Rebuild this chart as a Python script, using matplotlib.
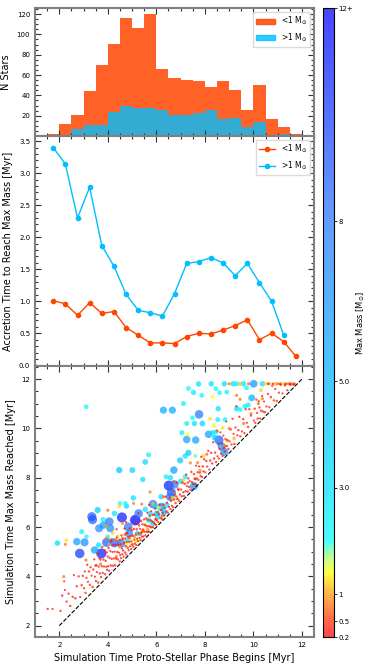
import numpy as np
import matplotlib
matplotlib.use("Agg")
import matplotlib.pyplot as plt
from matplotlib.colors import LinearSegmentedColormap, Normalize
from matplotlib.patches import Patch
from matplotlib.ticker import MultipleLocator

# histogram bins (0.5 Myr wide) and star counts per bin
bin_left = np.arange(1.5, 12.0, 0.5)
n_low = [2, 12, 21, 44, 70, 91, 116, 106, 120, 66, 57, 55, 54, 48, 54, 45, 26, 50, 17, 9, 2]
n_high = [1, 1, 7, 11, 11, 24, 30, 28, 28, 26, 21, 21, 23, 26, 17, 18, 9, 14, 1, 2, 0]

# mean accretion time per bin [Myr]
acc_low = [1.01, 0.96, 0.78, 0.98, 0.81, 0.84, 0.59, 0.47, 0.35, 0.35, 0.34,
           0.45, 0.50, 0.49, 0.55, 0.62, 0.71, 0.40, 0.50, 0.37, 0.14]
acc_high = [3.40, 3.14, 2.30, 2.78, 1.87, 1.55, 1.11, 0.86, 0.82, 0.77, 1.12,
            1.59, 1.62, 1.68, 1.60, 1.40, 1.59, 1.29, 1.00, 0.47]

# individual stars: (start time, accretion time, max mass)
massive_stars = [
    (1.92, 3.43, 3.2), (3.11, 7.77, 2.2), (6.29, 4.45, 5.5), (6.66, 4.08, 5.5),
    (4.47, 3.84, 4.2), (5.01, 3.30, 3.6), (5.54, 3.10, 3.4), (5.68, 3.25, 2.5),
    (5.44, 2.49, 3.0), (6.72, 1.59, 6.0), (6.51, 1.17, 11.0), (6.74, 0.99, 8.0),
    (6.62, 0.78, 9.0), (5.05, 2.13, 3.0), (4.77, 2.08, 3.0), (4.50, 2.46, 2.0),
    (3.58, 3.11, 4.0), (3.34, 3.08, 9.0), (3.37, 2.93, 9.0), (3.80, 2.51, 2.5),
    (3.64, 2.31, 7.0), (4.06, 2.16, 8.0), (4.27, 2.28, 3.0), (4.58, 1.81, 11.0),
    (5.13, 1.15, 12.0), (4.84, 1.17, 8.0), (2.92, 2.89, 2.5), (2.72, 2.69, 6.0),
    (3.04, 2.34, 7.0), (3.12, 2.49, 2.0), (2.84, 2.09, 10.0), (3.73, 1.20, 11.0),
    (3.45, 1.62, 6.0), (3.62, 1.65, 3.0), (3.95, 1.43, 9.0), (4.26, 1.10, 9.0),
    (4.55, 0.79, 8.0), (4.80, 0.67, 2.5), (4.00, 1.61, 2.0), (5.22, 0.52, 3.0),
    (4.87, 0.87, 7.0), (5.84, 0.30, 3.0), (6.05, 0.35, 3.0), (6.33, 0.29, 3.0),
    (5.86, 1.07, 8.0), (6.19, 0.63, 7.0), (6.19, 1.04, 3.0), (3.82, 2.26, 6.0),
    (4.10, 1.85, 7.0), (5.27, 1.28, 8.0), (5.54, 1.18, 3.0), (5.95, 0.87, 3.0),
    (6.29, 0.26, 3.0), (6.43, 0.46, 3.0), (5.74, 0.81, 3.0), (5.68, 0.60, 3.0),
    (6.02, 0.53, 4.0), (4.72, 2.24, 2.0), (7.12, 3.89, 2.5), (7.53, 3.93, 2.8),
    (7.74, 4.06, 3.0), (8.26, 3.55, 3.0), (8.80, 3.01, 3.0), (9.17, 2.64, 3.0),
    (9.31, 2.50, 2.5), (9.59, 2.22, 3.0), (10.01, 1.80, 6.5), (10.37, 1.44, 3.0),
    (7.32, 4.30, 2.2), (8.45, 3.16, 2.2), (8.90, 2.57, 2.2), (9.72, 1.93, 2.2),
    (9.93, 1.31, 5.0), (7.87, 3.47, 2.2), (8.55, 2.25, 3.0), (9.31, 1.49, 3.0),
    (9.65, 1.25, 2.5), (7.76, 2.81, 8.0), (7.49, 2.94, 2.2), (7.25, 2.95, 2.5),
    (7.57, 2.63, 3.0), (7.90, 2.30, 3.5), (8.53, 1.83, 2.5), (8.83, 1.53, 2.2),
    (7.05, 2.78, 2.5), (7.25, 2.30, 6.0), (7.62, 1.91, 6.0), (8.15, 1.61, 6.0),
    (8.31, 1.51, 3.0), (8.42, 1.20, 4.0), (8.58, 0.95, 9.0), (8.69, 0.59, 7.0),
    (7.32, 1.69, 4.0), (7.19, 1.69, 3.0), (7.60, 1.28, 1.8), (6.98, 1.72, 4.0),
    (7.00, 0.85, 3.0), (7.55, 0.11, 7.0), (8.60, 2.85, 2.2), (8.80, 0.25, 7.0),
    (9.45, 1.31, 2.2), (9.79, 1.16, 2.5), (8.46, 1.40, 2.5), (6.40, 1.64, 2.5),
    (6.58, 1.42, 3.0), (6.57, 0.66, 8.0), (7.19, 0.85, 2.5),
]

mid_stars = [
    (3.95, 1.60, 0.9), (4.05, 1.25, 1.1), (4.15, 1.35, 0.7), (4.20, 1.55, 1.3),
    (4.32, 1.13, 0.8), (4.40, 1.22, 1.2), (4.48, 0.72, 0.9), (4.60, 0.95, 1.0),
    (4.70, 1.00, 0.7), (4.78, 0.57, 1.4), (4.90, 0.65, 0.8), (5.00, 0.30, 1.1),
    (5.10, 0.50, 0.9), (5.20, 0.22, 1.3), (5.35, 0.35, 0.7), (5.45, 0.40, 1.0),
    (2.29, 3.18, 1.3), (2.25, 3.05, 0.8), (2.18, 1.81, 0.8), (3.10, 1.56, 0.8),
    (5.55, 0.55, 1.3), (5.13, 0.34, 1.4), (4.78, 0.96, 0.8), (5.40, 0.41, 0.7),
    (5.98, 0.32, 0.8), (6.23, 0.22, 0.7), (5.06, 1.90, 0.8), (4.47, 2.38, 1.3),
    (5.40, 1.53, 0.8), (5.86, 1.09, 1.2), (4.60, 1.55, 0.9), (4.00, 2.68, 0.7),
    (3.95, 2.10, 1.0), (5.74, 1.68, 0.8), (6.29, 0.94, 0.8), (6.72, 1.10, 0.7),
    (6.66, 0.53, 1.3), (6.90, 0.65, 0.8), (7.10, 0.80, 1.2), (7.30, 0.50, 0.7),
    (7.40, 1.20, 0.9), (7.70, 0.91, 0.8), (7.94, 0.94, 1.3), (8.08, 0.87, 0.7),
    (7.80, 0.50, 1.0), (8.21, 2.18, 1.3), (8.38, 1.71, 1.4), (8.74, 1.29, 1.3),
    (7.29, 2.47, 1.4), (8.31, 2.97, 1.4), (9.31, 2.03, 0.8), (9.45, 1.73, 0.8),
    (10.31, 1.24, 1.2), (10.37, 0.83, 0.8), (8.83, 0.45, 0.8), (8.50, 1.40, 0.7),
    (9.00, 1.00, 0.9), (9.20, 0.40, 1.1), (9.60, 0.60, 0.7), (9.90, 0.70, 0.8),
    (8.90, 0.60, 1.2), (10.20, 0.80, 0.7), (10.50, 1.31, 1.3), (10.65, 1.16, 0.8),
    (10.89, 0.92, 1.1), (11.00, 0.81, 0.7), (11.16, 0.65, 1.2), (11.30, 0.51, 0.8),
    (11.44, 0.37, 0.9), (11.55, 0.26, 0.6), (11.64, 0.17, 1.0), (9.00, 2.81, 0.8),
    (9.45, 2.36, 1.2), (9.80, 2.01, 0.7), (4.35, 0.45, 0.7), (5.65, 0.25, 0.9),
    (6.10, 0.70, 1.5), (6.85, 0.30, 0.8), (7.60, 0.35, 0.7), (3.70, 0.80, 0.8),
]

low_stars = [
    (1.52, 1.16, .3), (1.72, 0.96, .2), (2.05, 0.55, .3), (2.12, 1.10, .4), (2.23, 1.22, .2),
    (2.30, 0.68, .3), (2.38, 0.92, .3), (2.45, 0.35, .4), (2.20, 1.60, .2), (2.55, 0.62, .3),
    (2.60, 1.45, .2), (2.66, 0.45, .4), (2.72, 0.88, .3), (2.80, 1.20, .3), (2.86, 0.30, .2),
    (2.92, 0.72, .4), (2.97, 1.05, .3), (3.02, 0.50, .3), (3.05, 1.15, .2), (3.08, 0.25, .4),
    (3.12, 0.82, .3), (3.15, 1.32, .3), (3.18, 0.60, .2), (3.22, 0.98, .4), (3.26, 0.40, .3),
    (3.29, 1.08, .3), (3.33, 0.70, .2), (3.37, 0.20, .4), (3.40, 0.88, .3), (3.44, 1.25, .3),
    (3.47, 0.52, .2), (3.49, 0.95, .4), (3.51, 0.30, .3), (3.53, 0.92, .3), (3.55, 0.62, .2),
    (3.58, 1.35, .4), (3.60, 0.15, .3), (3.62, 0.78, .3), (3.65, 1.08, .2), (3.67, 0.45, .4),
    (3.70, 0.98, .3), (3.72, 0.25, .3), (3.75, 0.66, .2), (3.77, 1.42, .4), (3.79, 0.35, .3),
    (3.82, 0.86, .3), (3.84, 0.56, .2), (3.87, 1.18, .4), (3.89, 0.20, .3), (3.91, 0.72, .3),
    (3.93, 0.46, .2), (3.95, 1.02, .4), (3.97, 0.30, .3), (3.99, 0.82, .3), (4.01, 0.40, .2),
    (4.03, 1.12, .4), (4.05, 0.18, .3), (4.07, 0.68, .3), (4.10, 0.92, .2), (4.12, 0.32, .4),
    (4.14, 1.30, .3), (4.16, 0.55, .3), (4.19, 0.80, .2), (4.21, 0.22, .4), (4.23, 1.05, .3),
    (4.25, 0.48, .3), (4.28, 0.72, .2), (4.30, 0.15, .4), (4.32, 0.95, .3), (4.34, 0.38, .3),
    (4.37, 1.20, .2), (4.39, 0.60, .4), (4.41, 0.28, .3), (4.43, 0.85, .3), (4.46, 0.50, .2),
    (4.48, 1.00, .4), (4.49, 0.12, .3), (4.36, 1.55, .3), (4.51, 0.35, .2), (4.52, 0.78, .4),
    (4.54, 0.20, .3), (4.56, 1.10, .3), (4.58, 0.55, .2), (4.60, 0.30, .4), (4.62, 0.90, .3),
    (4.63, 0.42, .3), (4.65, 0.15, .2), (4.67, 0.68, .4), (4.69, 1.25, .3), (4.71, 0.26, .3),
    (4.72, 0.82, .2), (4.74, 0.48, .4), (4.76, 0.12, .3), (4.78, 0.62, .3), (4.80, 0.95, .2),
    (4.82, 0.34, .4), (4.84, 0.75, .3), (4.86, 0.20, .3), (4.88, 0.52, .2), (4.90, 1.05, .4),
    (4.92, 0.30, .3), (4.94, 0.70, .3), (4.96, 0.15, .2), (4.97, 0.45, .4), (4.99, 0.88, .3),
    (4.75, 1.45, .3), (5.01, 0.28, .2), (5.03, 0.62, .4), (5.05, 0.15, .3), (5.07, 0.85, .3),
    (5.09, 0.40, .2), (5.11, 0.22, .4), (5.13, 1.00, .3), (5.15, 0.55, .3), (5.17, 0.10, .2),
    (5.19, 0.72, .4), (5.21, 0.32, .3), (5.23, 0.92, .3), (5.25, 0.18, .2), (5.27, 0.48, .4),
    (5.29, 0.78, .3), (5.31, 0.25, .3), (5.33, 0.60, .2), (5.35, 0.12, .4), (5.37, 0.88, .3),
    (5.39, 0.38, .3), (5.41, 0.20, .2), (5.43, 0.68, .4), (5.45, 0.45, .3), (5.47, 0.15, .3),
    (5.49, 0.82, .2), (5.26, 1.30, .4), (5.51, 0.30, .3), (5.53, 0.55, .3), (5.55, 0.12, .2),
    (5.57, 0.78, .4), (5.59, 0.22, .3), (5.61, 0.42, .3), (5.63, 0.95, .2), (5.65, 0.15, .4),
    (5.67, 0.62, .3), (5.69, 0.35, .3), (5.71, 0.10, .2), (5.73, 0.72, .4), (5.75, 0.25, .3),
    (5.77, 0.50, .3), (5.79, 0.85, .2), (5.81, 0.18, .4), (5.83, 0.40, .3), (5.85, 0.65, .3),
    (5.87, 0.12, .2), (5.89, 0.30, .4), (5.91, 0.58, .3), (5.93, 0.20, .3), (5.95, 0.80, .2),
    (5.97, 0.35, .4), (5.99, 0.10, .3), (5.70, 1.20, .3), (6.02, 0.25, .2), (6.05, 0.55, .4),
    (6.08, 0.12, .3), (6.11, 0.40, .3), (6.14, 0.75, .2), (6.17, 0.20, .4), (6.20, 0.48, .3),
    (6.23, 0.10, .3), (6.26, 0.32, .2), (6.29, 0.62, .4), (6.32, 0.15, .3), (6.35, 0.42, .3),
    (6.38, 0.85, .2), (6.41, 0.22, .4), (6.44, 0.55, .3), (6.47, 0.12, .3), (6.52, 0.30, .2),
    (6.55, 0.62, .4), (6.58, 0.15, .3), (6.61, 0.45, .3), (6.64, 0.22, .2), (6.67, 0.78, .4),
    (6.70, 0.10, .3), (6.73, 0.38, .3), (6.76, 0.55, .2), (6.79, 0.18, .4), (6.82, 0.42, .3),
    (6.85, 0.95, .3), (6.88, 0.25, .2), (6.91, 0.60, .4), (6.94, 0.12, .3), (6.97, 0.35, .3),
    (7.02, 0.50, .2), (7.05, 0.20, .4), (7.08, 0.72, .3), (7.11, 0.30, .3), (7.14, 0.12, .2),
    (7.17, 0.58, .4), (7.20, 0.25, .3), (7.23, 0.90, .3), (7.26, 0.40, .2), (7.29, 0.15, .4),
    (7.32, 0.65, .3), (7.35, 0.28, .3), (7.38, 0.48, .2), (7.41, 0.10, .4), (7.44, 0.80, .3),
    (7.47, 0.35, .3), (7.52, 0.22, .2), (7.55, 0.60, .4), (7.58, 0.38, .3), (7.61, 0.12, .3),
    (7.64, 0.85, .2), (7.67, 0.30, .4), (7.70, 0.52, .3), (7.73, 0.18, .3), (7.76, 0.70, .2),
    (7.79, 0.42, .4), (7.82, 0.25, .3), (7.85, 1.00, .3), (7.88, 0.15, .2), (7.91, 0.55, .4),
    (7.94, 0.32, .3), (7.97, 0.78, .3), (8.02, 0.20, .2), (8.06, 0.62, .4), (8.10, 0.35, .3),
    (8.14, 0.95, .3), (8.18, 0.15, .2), (8.22, 0.48, .4), (8.26, 0.75, .3), (8.30, 0.28, .3),
    (8.34, 1.10, .2), (8.38, 0.40, .4), (8.42, 0.60, .3), (8.46, 0.18, .3), (8.52, 0.35, .2),
    (8.55, 0.82, .4), (8.58, 0.20, .3), (8.61, 0.55, .3), (8.64, 1.20, .2), (8.67, 0.30, .4),
    (8.70, 0.68, .3), (8.73, 0.15, .3), (8.76, 0.95, .2), (8.79, 0.42, .4), (8.82, 0.25, .3),
    (8.85, 0.72, .3), (8.88, 1.40, .2), (8.91, 0.38, .4), (8.94, 0.58, .3), (8.97, 0.20, .3),
    (9.02, 0.45, .2), (9.06, 0.90, .4), (9.10, 0.25, .3), (9.14, 1.25, .3), (9.18, 0.60, .2),
    (9.22, 0.15, .4), (9.26, 0.78, .3), (9.30, 1.60, .3), (9.34, 0.38, .2), (9.38, 0.55, .4),
    (9.42, 1.05, .3), (9.46, 0.22, .3), (9.53, 0.35, .2), (9.58, 0.80, .4), (9.63, 0.18, .3),
    (9.68, 1.10, .3), (9.73, 0.50, .2), (9.78, 0.28, .4), (9.83, 0.95, .3), (9.90, 0.62, .3),
    (10.02, 0.30, .2), (10.05, 0.75, .4), (10.08, 0.15, .3), (10.12, 1.05, .3), (10.15, 0.48, .2),
    (10.18, 0.22, .4), (10.22, 0.88, .3), (10.25, 0.60, .3), (10.28, 0.12, .2), (10.32, 0.40, .4),
    (10.36, 0.95, .3), (10.40, 0.28, .3), (10.44, 0.65, .2), (10.48, 0.18, .4), (10.54, 0.35, .3),
    (10.60, 0.80, .3), (10.66, 0.20, .2), (10.72, 0.55, .4), (10.78, 0.95, .3), (10.84, 0.30, .3),
    (10.90, 0.70, .2), (10.96, 0.15, .4), (11.05, 0.40, .3), (11.12, 0.65, .3), (11.20, 0.22, .2),
    (11.30, 0.45, .4), (11.40, 0.15, .3), (11.52, 0.25, .3), (11.65, 0.12, .2), (10.60, 1.21, .4),
    (10.80, 1.01, .3), (11.10, 0.71, .3), (11.35, 0.46, .2), (11.50, 0.31, .4), (11.70, 0.11, .3),
]

cbar_ticks = [0.2, 0.5, 1, 3, 5, 8, 12]
cbar_labels = ['0.2', '0.5', '1', '3.0', '5.0', '8', '12+']
diag = [2, 12]

# colour map anchored on mass values
cmap_mass = [0.2, 0.5, 1.0, 1.4, 1.7, 2.0, 3.0, 5.0, 8.0, 12.0]
cmap_cols = ['#ff0000', '#ff3000', '#ff9a00', '#ffff00', '#a0ff70', '#00ffff',
             '#00e0ff', '#00b4ff', '#2878ff', '#0000ff']
norm = Normalize(vmin=0.2, vmax=12)
cmap = LinearSegmentedColormap.from_list(
    'mass', list(zip([norm(m) for m in cmap_mass], cmap_cols)))

RED = 'orangered'
BLUE = 'deepskyblue'

fig = plt.figure(figsize=(3.73, 6.66), dpi=100)
ax1 = fig.add_axes([0.094, 0.7958, 0.748, 0.1922])
ax2 = fig.add_axes([0.094, 0.4505, 0.748, 0.3453], sharex=ax1)
ax3 = fig.add_axes([0.094, 0.0435, 0.748, 0.4069], sharex=ax1)
cax = fig.add_axes([0.865, 0.0435, 0.0295, 0.944])

# top: histogram
ax1.bar(bin_left, n_low, width=0.5, align='edge', color=RED, alpha=0.85, lw=0)
ax1.bar(bin_left, n_high, width=0.5, align='edge', color=BLUE, alpha=0.8, lw=0)
ax1.set_ylim(0, 126)
ax1.set_yticks([20, 40, 60, 80, 100, 120])
ax1.yaxis.set_minor_locator(MultipleLocator(5))
ax1.set_ylabel('N Stars', fontsize=7)
ax1.legend(handles=[Patch(color=RED, alpha=0.85, label=r'<1 M$_{\odot}$'),
                    Patch(color=BLUE, alpha=0.8, label=r'>1 M$_{\odot}$')],
           loc='upper right', fontsize=5.5, fancybox=False, edgecolor='lightgray',
           handlelength=2.5)

# middle: accretion time
centers = bin_left + 0.25
ax2.plot(centers, acc_low, '-o', color=RED, ms=3, lw=1, label=r'<1 M$_{\odot}$')
ax2.plot(centers[:len(acc_high)], acc_high, '-o', color=BLUE, ms=3, lw=1,
         label=r'>1 M$_{\odot}$')
ax2.set_ylim(-0.01, 3.58)
ax2.yaxis.set_major_locator(MultipleLocator(0.5))
ax2.yaxis.set_minor_locator(MultipleLocator(0.1))
ax2.set_ylabel('Accretion Time to Reach Max Mass [Myr]', fontsize=7)
ax2.legend(loc='upper right', fontsize=5.5, fancybox=False, edgecolor='lightgray')

# bottom: scatter, marker area grows with mass
stars = np.array(massive_stars + mid_stars + low_stars)
stars = stars[np.argsort(-stars[:, 2])]
t0, dt, mm = stars[:, 0], stars[:, 1], stars[:, 2]
sc = ax3.scatter(t0, t0 + dt, c=mm, s=4.6 * mm + 1.5, cmap=cmap, norm=norm,
                 alpha=0.72, linewidths=0)
ax3.plot(diag, diag, '--', color='black', lw=0.8)
ax3.set_ylim(1.54, 12.53)
ax3.yaxis.set_major_locator(MultipleLocator(2))
ax3.yaxis.set_minor_locator(MultipleLocator(0.5))
ax3.set_ylabel('Simulation Time Max Mass Reached [Myr]', fontsize=7)
ax3.set_xlabel('Simulation Time Proto-Stellar Phase Begins [Myr]', fontsize=7)

ax1.set_xlim(1.0, 12.5)
ax1.xaxis.set_major_locator(MultipleLocator(2))
ax1.xaxis.set_minor_locator(MultipleLocator(0.5))

for ax in (ax1, ax2, ax3):
    ax.tick_params(which='both', direction='in', top=True, right=True,
                   labelsize=5, width=0.8, color='0.2')
    ax.tick_params(which='major', length=4)
    ax.tick_params(which='minor', length=2)
    for sp in ax.spines.values():
        sp.set_color('gray')
        sp.set_linewidth(1.5)
ax2.yaxis.set_major_formatter(plt.FormatStrFormatter('%.1f'))
plt.setp(ax1.get_xticklabels(), visible=False)
plt.setp(ax2.get_xticklabels(), visible=False)

cb = fig.colorbar(sc, cax=cax)
cb.set_ticks(cbar_ticks)
cb.set_ticklabels(cbar_labels)
cb.ax.tick_params(labelsize=5, length=2, width=0.6, pad=1.5)
cb.ax.minorticks_off()
cb.set_label(r'Max Mass [M$_{\odot}$]', fontsize=6, labelpad=1)

fig.savefig('out.png', dpi=100)
